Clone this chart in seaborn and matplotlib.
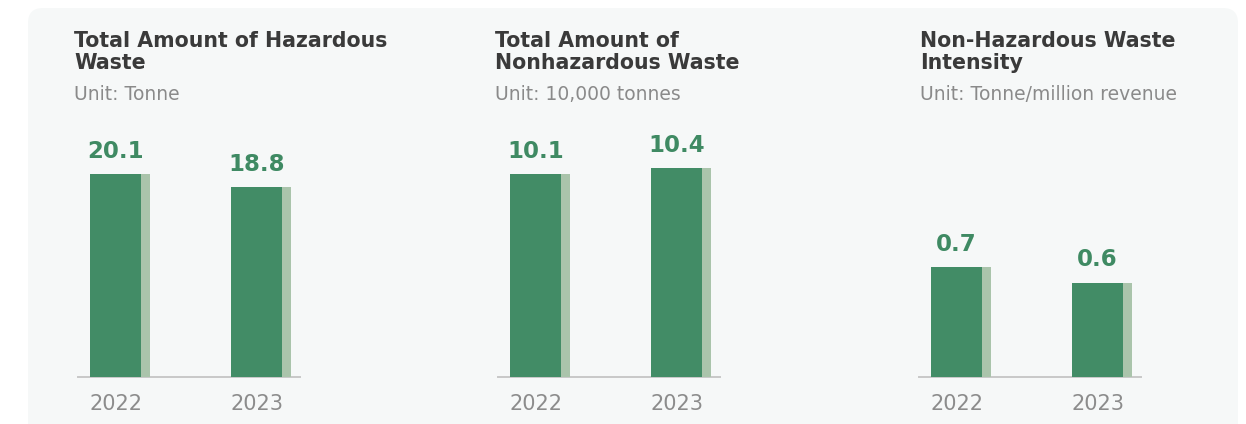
import matplotlib
matplotlib.use("Agg")
import matplotlib.pyplot as plt
import matplotlib.patheffects as pe
from matplotlib.patches import FancyBboxPatch
import seaborn as sns
import pandas as pd

# ---- data ----
years = ["2022", "2023"]
hazardous = [20.1, 18.8]
nonhazardous = [10.1, 10.4]
intensity = [0.7, 0.6]
titles = ["Total Amount of Hazardous\nWaste",
          "Total Amount of\nNonhazardous Waste",
          "Non-Hazardous Waste\nIntensity"]
units = ["Unit: Tonne", "Unit: 10,000 tonnes", "Unit: Tonne/million revenue"]
value_labels = [["20.1", "18.8"], ["10.1", "10.4"], ["0.7", "0.6"]]

sns.set_theme(style="white")
plt.rcParams["font.family"] = ["DejaVu Sans"]

W, H = 1246, 424
fig = plt.figure(figsize=(W / 100, H / 100), dpi=100)
fig.patch.set_facecolor("white")

panel = FancyBboxPatch((28 / W, -40 / H), (1238 - 28) / W, (H - 8 + 40) / H,
                       boxstyle="round,pad=0,rounding_size=0.012",
                       transform=fig.transFigure, facecolor="#f6f8f8",
                       edgecolor="none", zorder=-5, mutation_aspect=W / H)
fig.patches.append(panel)

green = "#428c66"
shadow = "#aac4ab"
label_green = "#3f8a63"

series = [hazardous, nonhazardous, intensity]
ymax = [24.46, 12.29, 1.57]
lefts = [78, 498, 919]
title_x = [74, 495, 920]
bottom = (H - 377) / H
top = (H - 130) / H

for i, vals in enumerate(series):
    ax = fig.add_axes([lefts[i] / W, bottom, 222 / W, top - bottom])
    ax.set_facecolor("none")
    df = pd.DataFrame({"year": years, "value": vals})
    sns.barplot(data=df, x="year", y="value", ax=ax, color=green,
                width=0.3617, saturation=1, zorder=3, linewidth=0)
    for p in ax.patches:
        p.set_path_effects([pe.SimplePatchShadow(offset=(6.5, 0), shadow_rgbFace=shadow,
                                                 alpha=1.0), pe.Normal()])
    ax.bar_label(ax.containers[0], labels=value_labels[i], padding=8,
                 color=label_green, fontsize=16.5, fontweight="bold")
    ax.set_xlim(-0.266, 1.3085)
    ax.set_ylim(0, ymax[i])
    ax.set_xlabel("")
    ax.set_ylabel("")
    ax.set_yticks([])
    for s in ["top", "left", "right"]:
        ax.spines[s].set_visible(False)
    ax.spines["bottom"].set_color("#c8c8c8")
    ax.spines["bottom"].set_linewidth(1.4)
    ax.tick_params(axis="x", length=0, pad=12, labelsize=15, labelcolor="#8c8c8c")

    fig.text(title_x[i] / W, 1 - 31 / H, titles[i], ha="left", va="top",
             fontsize=14.8, fontweight="bold", color="#3a3a3a", linespacing=1.15)
    fig.text(title_x[i] / W, 1 - 85 / H, units[i], ha="left", va="top",
             fontsize=13.5, color="#8a8a8a")

fig.savefig("out.png", dpi=100, facecolor="white")
